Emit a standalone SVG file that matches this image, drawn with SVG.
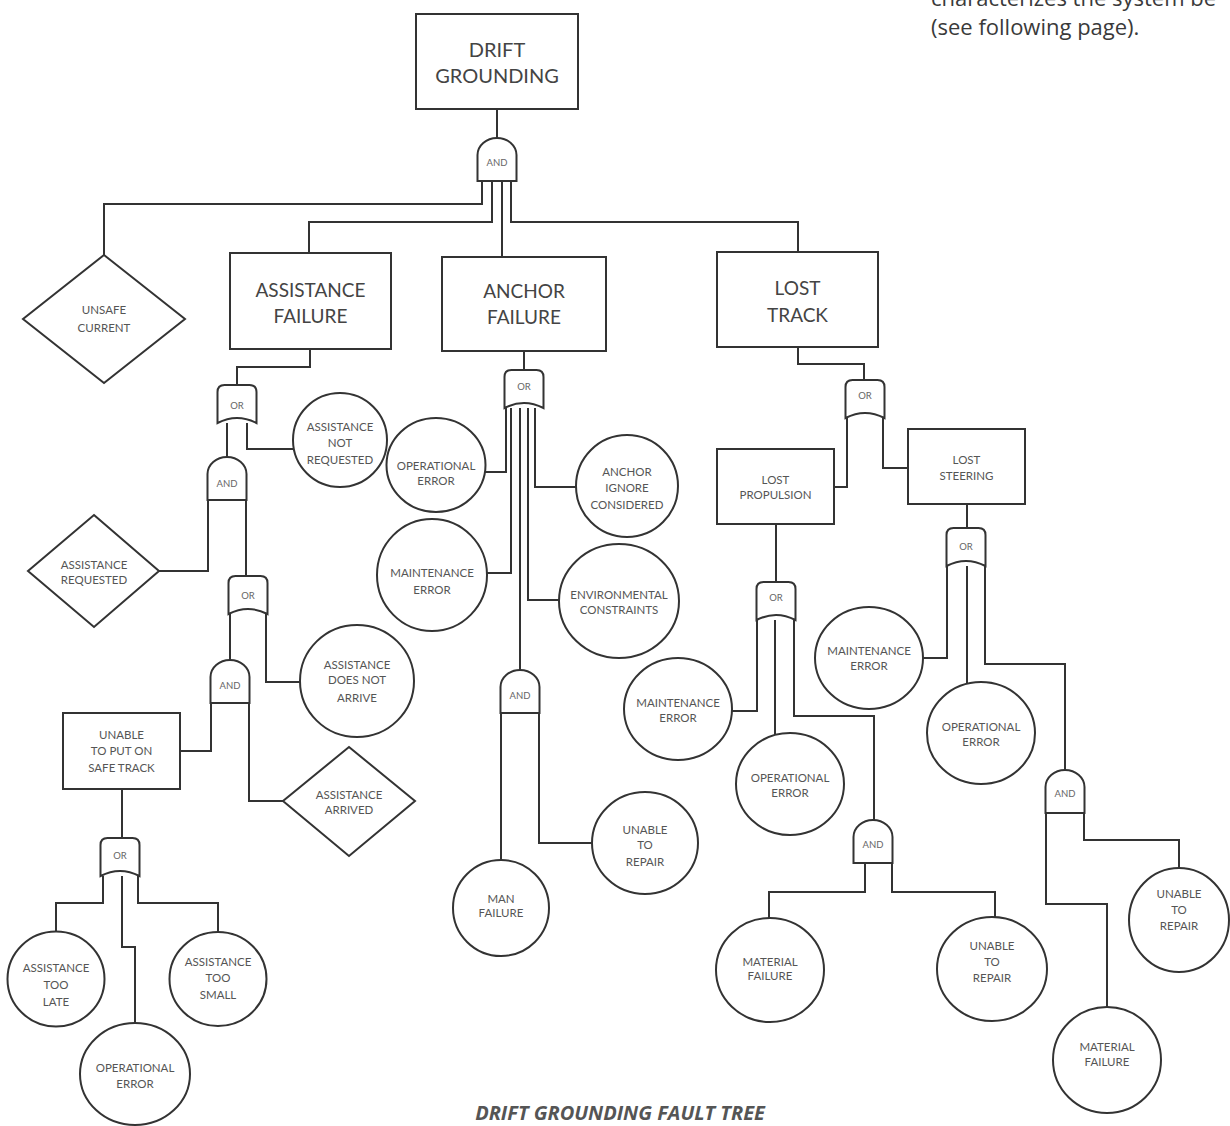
<svg xmlns="http://www.w3.org/2000/svg" width="1230" height="1126" viewBox="0 0 1230 1126">
<defs>
<style>
.s{fill:#fff;stroke:#333;stroke-width:2}
.c{fill:none;stroke:#333;stroke-width:2}
.t{font-family:Lato,"Liberation Sans",sans-serif;font-size:11.5px;fill:#555;text-anchor:middle}
.b{font-family:Lato,"Liberation Sans",sans-serif;font-size:19px;fill:#444;text-anchor:middle}
.g{font-family:Lato,"Liberation Sans",sans-serif;font-size:9.5px;fill:#666;text-anchor:middle}
.p{font-family:"Open Sans","Liberation Sans",sans-serif;font-size:22px;fill:#3a3a3a}
.cap{font-family:"Open Sans","Liberation Sans",sans-serif;font-size:20px;font-weight:bold;font-style:italic;fill:#555;text-anchor:middle}
</style>
<path id="and" d="M-19.5,43 V17 A19.5,17 0 0 1 19.5,17 V43 Z"/>
<path id="or" d="M-19.5,38 V7 Q-19.5,0 -12.5,0 H12.5 Q19.5,0 19.5,7 V38 Q0,28 -19.5,38 Z"/>
</defs>
<rect width="1230" height="1126" fill="#fff"/>
<text class="p" x="931" y="6">characterizes the system be</text>
<text class="p" x="931" y="35">(see following page).</text>
<g id="connectors">
<polyline class="c" points="497,109 497,138"/>
<polyline class="c" points="482,182 482,204 104,204 104,255"/>
<polyline class="c" points="492,182 492,222 309,222 309,253"/>
<polyline class="c" points="502,182 502,257"/>
<polyline class="c" points="511,182 511,222 798,222 798,252"/>
<polyline class="c" points="310,349 310,367 237,367 237,385"/>
<polyline class="c" points="227,423 227,457"/>
<polyline class="c" points="247,423 247,449 294,449"/>
<polyline class="c" points="208,500 208,571 159,571"/>
<polyline class="c" points="246,500 246,576"/>
<polyline class="c" points="230,614 230,660"/>
<polyline class="c" points="266,614 266,682 300,682"/>
<polyline class="c" points="211,703 211,751 180,751"/>
<polyline class="c" points="249,703 249,801 283,801"/>
<polyline class="c" points="122,789 122,838"/>
<polyline class="c" points="103,876 103,903 56,903 56,932"/>
<polyline class="c" points="122,876 122,947 135,947 135,1023"/>
<polyline class="c" points="138,876 138,903 218,903 218,932"/>
<polyline class="c" points="524,351 524,370"/>
<polyline class="c" points="506,408 506,472 485,472"/>
<polyline class="c" points="511,408 511,573 487,573"/>
<polyline class="c" points="520,408 520,670"/>
<polyline class="c" points="528,408 528,600 559,600"/>
<polyline class="c" points="535,408 535,487 576,487"/>
<polyline class="c" points="501,713 501,860"/>
<polyline class="c" points="539,713 539,843 592,843"/>
<polyline class="c" points="798,347 798,364 864,364 864,380"/>
<polyline class="c" points="847,418 847,487 834,487"/>
<polyline class="c" points="883,418 883,468 908,468"/>
<polyline class="c" points="776,524 776,582"/>
<polyline class="c" points="967,504 967,528"/>
<polyline class="c" points="757,620 757,711 732,711"/>
<polyline class="c" points="775,620 775,735"/>
<polyline class="c" points="794,620 794,716 874,716 874,820"/>
<polyline class="c" points="865,863 865,892 769,892 769,918"/>
<polyline class="c" points="892,863 892,892 995,892 995,917"/>
<polyline class="c" points="947,566 947,658 923,658"/>
<polyline class="c" points="967,566 967,684"/>
<polyline class="c" points="985,566 985,664 1065,664 1065,770"/>
<polyline class="c" points="1046,813 1046,904 1107,904 1107,1007"/>
<polyline class="c" points="1084,813 1084,840 1179,840 1179,868"/>
</g>
<g id="n-drift"><rect class="s" x="416" y="14" width="162" height="95"/><text class="b" style="font-size:20px" x="497" y="57">DRIFT</text><text class="b" style="font-size:20px" x="497" y="83">GROUNDING</text></g>
<g id="g-and-top"><use href="#and" class="s" x="497" y="138"/><text class="g" x="497" y="166">AND</text></g>
<g id="n-unsafe"><polygon class="s" points="104,255 185,319 104,383 23,319"/><text class="t" x="104" y="314">UNSAFE</text><text class="t" x="104" y="332">CURRENT</text></g>
<g id="n-assist"><rect class="s" x="230" y="253" width="161" height="96"/><text class="b" x="310.5" y="297">ASSISTANCE</text><text class="b" x="310.5" y="323">FAILURE</text></g>
<g id="n-anchor"><rect class="s" x="442" y="257" width="164" height="94"/><text class="b" x="524" y="298">ANCHOR</text><text class="b" x="524" y="324">FAILURE</text></g>
<g id="n-lost"><rect class="s" x="717" y="252" width="161" height="95"/><text class="b" x="797.5" y="295">LOST</text><text class="b" x="797.5" y="322">TRACK</text></g>
<g id="g-or-a1"><use href="#or" class="s" x="237" y="385"/><text class="g" x="237" y="409">OR</text></g>
<g id="n-anr"><circle class="s" cx="340" cy="440" r="47"/><text class="t" x="340" y="431">ASSISTANCE</text><text class="t" x="340" y="447">NOT</text><text class="t" x="340" y="464">REQUESTED</text></g>
<g id="g-and-a1"><use href="#and" class="s" x="227" y="457"/><text class="g" x="227" y="487">AND</text></g>
<g id="n-areq"><polygon class="s" points="94,515 159,571 94,627 28,571"/><text class="t" x="94" y="569">ASSISTANCE</text><text class="t" x="94" y="584">REQUESTED</text></g>
<g id="g-or-a2"><use href="#or" class="s" x="248" y="576"/><text class="g" x="248" y="599">OR</text></g>
<g id="n-adna"><ellipse class="s" cx="357" cy="681" rx="57" ry="56"/><text class="t" x="357" y="669">ASSISTANCE</text><text class="t" x="357" y="684">DOES NOT</text><text class="t" x="357" y="702">ARRIVE</text></g>
<g id="g-and-a2"><use href="#and" class="s" x="230" y="660"/><text class="g" x="230" y="689">AND</text></g>
<g id="n-unable"><rect class="s" x="63" y="713" width="117" height="76"/><text class="t" x="121.5" y="739">UNABLE</text><text class="t" x="121.5" y="755">TO PUT ON</text><text class="t" x="121.5" y="772">SAFE TRACK</text></g>
<g id="n-aarr"><polygon class="s" points="349,747 415,801 349,856 283,801"/><text class="t" x="349" y="799">ASSISTANCE</text><text class="t" x="349" y="814">ARRIVED</text></g>
<g id="g-or-a3"><use href="#or" class="s" x="120" y="838"/><text class="g" x="120" y="859">OR</text></g>
<g id="n-late"><ellipse class="s" cx="56" cy="979" rx="48.5" ry="47.5"/><text class="t" x="56" y="972">ASSISTANCE</text><text class="t" x="56" y="989">TOO</text><text class="t" x="56" y="1006">LATE</text></g>
<g id="n-small"><ellipse class="s" cx="218" cy="979" rx="48.5" ry="47"/><text class="t" x="218" y="966">ASSISTANCE</text><text class="t" x="218" y="982">TOO</text><text class="t" x="218" y="999">SMALL</text></g>
<g id="n-oper1"><ellipse class="s" cx="135" cy="1074" rx="55" ry="51"/><text class="t" x="135" y="1072">OPERATIONAL</text><text class="t" x="135" y="1088">ERROR</text></g>
<g id="g-or-b"><use href="#or" class="s" x="524" y="370"/><text class="g" x="524" y="390">OR</text></g>
<g id="n-oper2"><ellipse class="s" cx="436" cy="465" rx="49.5" ry="47"/><text class="t" x="436" y="470">OPERATIONAL</text><text class="t" x="436" y="485">ERROR</text></g>
<g id="n-ignore"><ellipse class="s" cx="627" cy="486" rx="51" ry="51"/><text class="t" x="627" y="476">ANCHOR</text><text class="t" x="627" y="492">IGNORE</text><text class="t" x="627" y="509">CONSIDERED</text></g>
<g id="n-maint2"><ellipse class="s" cx="432" cy="575" rx="55" ry="56"/><text class="t" x="432" y="577">MAINTENANCE</text><text class="t" x="432" y="594">ERROR</text></g>
<g id="n-env"><ellipse class="s" cx="619" cy="601" rx="60" ry="57"/><text class="t" x="619" y="599">ENVIRONMENTAL</text><text class="t" x="619" y="614">CONSTRAINTS</text></g>
<g id="g-and-b"><use href="#and" class="s" x="520" y="670"/><text class="g" x="520" y="699">AND</text></g>
<g id="n-man"><ellipse class="s" cx="501" cy="908" rx="48" ry="48"/><text class="t" x="501" y="903">MAN</text><text class="t" x="501" y="917">FAILURE</text></g>
<g id="n-unrep1"><ellipse class="s" cx="645" cy="843" rx="53" ry="51"/><text class="t" x="645" y="834">UNABLE</text><text class="t" x="645" y="849">TO</text><text class="t" x="645" y="866">REPAIR</text></g>
<g id="g-or-c"><use href="#or" class="s" x="865" y="380"/><text class="g" x="865" y="399">OR</text></g>
<g id="n-prop"><rect class="s" x="717" y="449" width="117" height="75"/><text class="t" x="775.5" y="484">LOST</text><text class="t" x="775.5" y="499">PROPULSION</text></g>
<g id="n-steer"><rect class="s" x="908" y="429" width="117" height="75"/><text class="t" x="966.5" y="464">LOST</text><text class="t" x="966.5" y="480">STEERING</text></g>
<g id="g-or-d"><use href="#or" class="s" x="776" y="582"/><text class="g" x="776" y="601">OR</text></g>
<g id="g-or-e"><use href="#or" class="s" x="966" y="528"/><text class="g" x="966" y="550">OR</text></g>
<g id="n-maint3"><ellipse class="s" cx="678" cy="709" rx="54" ry="51"/><text class="t" x="678" y="707">MAINTENANCE</text><text class="t" x="678" y="722">ERROR</text></g>
<g id="n-oper3"><ellipse class="s" cx="790" cy="784" rx="54" ry="51"/><text class="t" x="790" y="782">OPERATIONAL</text><text class="t" x="790" y="797">ERROR</text></g>
<g id="g-and-d"><use href="#and" class="s" x="873" y="820"/><text class="g" x="873" y="848">AND</text></g>
<g id="n-mat1"><ellipse class="s" cx="770" cy="970" rx="54" ry="52"/><text class="t" x="770" y="966">MATERIAL</text><text class="t" x="770" y="980">FAILURE</text></g>
<g id="n-unrep2"><ellipse class="s" cx="992" cy="969" rx="55" ry="52"/><text class="t" x="992" y="950">UNABLE</text><text class="t" x="992" y="966">TO</text><text class="t" x="992" y="982">REPAIR</text></g>
<g id="n-maint4"><ellipse class="s" cx="869" cy="658" rx="54" ry="51"/><text class="t" x="869" y="655">MAINTENANCE</text><text class="t" x="869" y="670">ERROR</text></g>
<g id="n-oper4"><ellipse class="s" cx="981" cy="733" rx="54" ry="51"/><text class="t" x="981" y="731">OPERATIONAL</text><text class="t" x="981" y="746">ERROR</text></g>
<g id="g-and-e"><use href="#and" class="s" x="1065" y="770"/><text class="g" x="1065" y="797">AND</text></g>
<g id="n-unrep3"><ellipse class="s" cx="1179" cy="920" rx="50" ry="52"/><text class="t" x="1179" y="898">UNABLE</text><text class="t" x="1179" y="914">TO</text><text class="t" x="1179" y="930">REPAIR</text></g>
<g id="n-mat2"><ellipse class="s" cx="1107" cy="1060" rx="54" ry="53"/><text class="t" x="1107" y="1051">MATERIAL</text><text class="t" x="1107" y="1066">FAILURE</text></g>
<text class="cap" x="620" y="1120">DRIFT GROUNDING FAULT TREE</text>
</svg>
